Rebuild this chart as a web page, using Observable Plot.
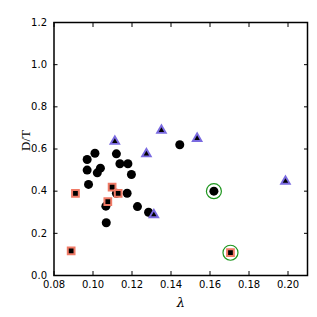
<!DOCTYPE html>
<html><head><meta charset="utf-8">
<script src="https://cdn.jsdelivr.net/npm/d3@7"></script>
<script src="https://cdn.jsdelivr.net/npm/@observablehq/plot@0.6"></script>
<style>body{margin:0;background:#fff}</style>
</head><body><div id="c"></div>
<script>
const circleX = [0.101,0.097,0.097,0.1022,0.1038,0.0977,0.112,0.1138,0.1179,0.1197,0.1175,0.112,0.1066,0.1068,0.1228,0.1285,0.1445,0.162];
const circleY = [0.58,0.55,0.50,0.487,0.509,0.432,0.577,0.53,0.53,0.479,0.39,0.39,0.329,0.25,0.327,0.30,0.62,0.40];
const squareX = [0.091,0.0888,0.1098,0.1129,0.1076,0.1705];
const squareY = [0.389,0.117,0.419,0.389,0.35,0.108];
const triX = [0.1112,0.1274,0.1312,0.1351,0.1534,0.1987];
const triY = [0.636,0.577,0.288,0.688,0.65,0.447];
const ringX = [0.162,0.1705];
const ringY = [0.40,0.108];
const xTicks = [0.08,0.10,0.12,0.14,0.16,0.18,0.20];
const yTicks = [0.0,0.2,0.4,0.6,0.8,1.0,1.2];

const circles = circleX.map((x,i)=>({x,y:circleY[i]}));
const squares = squareX.map((x,i)=>({x,y:squareY[i]}));
const tris = triX.map((x,i)=>({x,y:triY[i]}));
const rings = ringX.map((x,i)=>({x,y:ringY[i]}));

const chart = Plot.plot({
  width: 317, height: 317,
  marginLeft: 53.5, marginRight: 10, marginTop: 22, marginBottom: 42,
  style: {fontFamily: "DejaVu Sans", fontSize: "10px", color: "#000", background: "#fff"},
  x: {domain: [0.08, 0.21]},
  y: {domain: [0, 1.2]},
  marks: [
    Plot.axisX(xTicks, {anchor: "bottom", tickSize: -4, tickPadding: 9, tickFormat: d3.format(".2f"), label: null, fontSize: 10}),
    Plot.axisX(xTicks, {anchor: "top", tickSize: -4, tickFormat: () => "", label: null}),
    Plot.axisY(yTicks, {anchor: "left", tickSize: -4, tickPadding: 11, tickFormat: d3.format(".1f"), label: null, fontSize: 10}),
    Plot.axisY(yTicks, {anchor: "right", tickSize: -4, tickFormat: () => "", label: null}),
    Plot.frame({stroke: "#000", strokeWidth: 1.5}),
    Plot.dot(rings, {x: "x", y: "y", r: 7.5, fill: "none", stroke: "#1e961e", strokeWidth: 1.2}),
    Plot.dot(circles, {x: "x", y: "y", r: 4.5, fill: "#000", stroke: "none"}),
    Plot.dot(squares, {x: "x", y: "y", symbol: "square", r: 3.8, fill: "#000", stroke: "#f07a66", strokeWidth: 2}),
    Plot.dot(tris, {x: "x", y: "y", symbol: "triangle", r: 4.4, fill: "#7a6ae0", stroke: "none"}),
    Plot.dot(tris, {x: "x", y: "y", symbol: "triangle", r: 2.0, fill: "#000", stroke: "none"}),
    Plot.text(["λ"], {frameAnchor: "bottom", dy: 31, fontFamily: "DejaVu Serif", fontStyle: "italic", fontSize: 13}),
    Plot.text(["D/T"], {frameAnchor: "left", dx: -28, dy: 2, rotate: -90, fontFamily: "Liberation Serif", fontSize: 13, letterSpacing: "4px"})
  ]
});
document.getElementById("c").appendChild(chart);
</script>
</body></html>
